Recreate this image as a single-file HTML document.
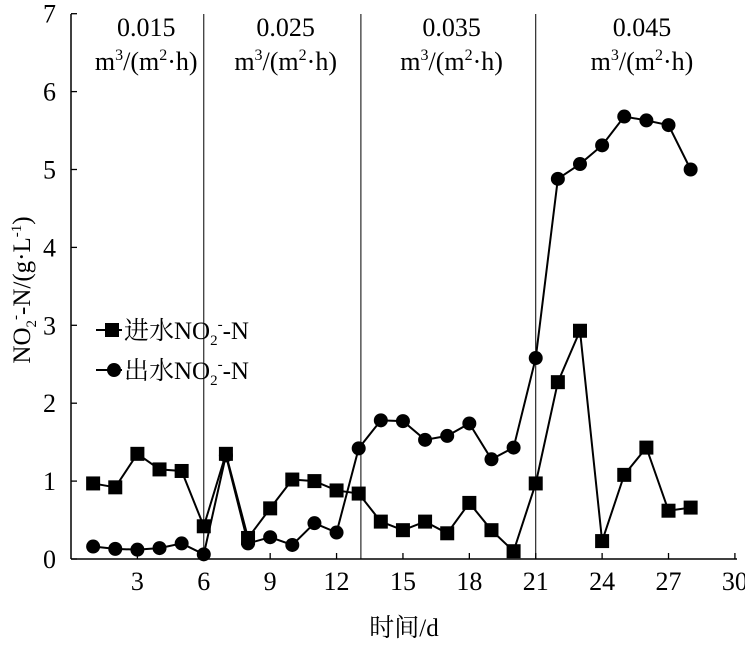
<!DOCTYPE html>
<html><head><meta charset="utf-8"><style>
body{margin:0;background:#fff}
svg text{font-family:"Liberation Serif","Noto Serif CJK SC",serif;fill:#000}
</style></head><body>
<svg width="745" height="645" id="c"></svg>
<script>
const days=[1,2,3,4,5,6,7,8,9,10,11,12,13,14,15,16,17,18,19,20,21,22,23,24,25,26,27,28];
const influent=[0.97,0.92,1.35,1.15,1.13,0.42,1.35,0.27,0.65,1.02,1.0,0.88,0.84,0.48,0.37,0.48,0.33,0.72,0.37,0.1,0.97,2.27,2.93,0.23,1.08,1.43,0.62,0.66];
const effluent=[0.16,0.13,0.12,0.14,0.2,0.06,1.33,0.2,0.28,0.18,0.46,0.34,1.42,1.78,1.77,1.53,1.58,1.74,1.28,1.43,2.58,4.88,5.07,5.31,5.68,5.63,5.57,5.0];
const xTicks=[3,6,9,12,15,18,21,24,27,30];
const yTicks=[0,1,2,3,4,5,6,7];
const dividers=[6,13.1,21];
const rates=["0.015","0.025","0.035","0.045"];
const rateX=[3.4,9.7,17.2,25.8];
const X=v=>71+v*22.13, Y=v=>559-v*77.9;
const s=document.getElementById('c'),NS='http://www.w3.org/2000/svg';
function el(t,a,p){const e=document.createElementNS(NS,t);for(const k in a)e.setAttribute(k,a[k]);(p||s).appendChild(e);return e;}
let e;
e=el('line',{x1:71,y1:14,x2:71,y2:559,stroke:'#000','stroke-width':1.5});


e=el('line',{x1:71,y1:559,x2:737,y2:559,stroke:'#000','stroke-width':1.5});


yTicks.forEach(v=>{
 el('line',{x1:71,y1:Y(v),x2:77,y2:Y(v),stroke:'#000','stroke-width':1.3});
 e=el('text',{x:56,y:Y(v)+9,'text-anchor':'end','font-size':26});e.textContent=v;
 
 
});
xTicks.forEach(v=>{
 el('line',{x1:X(v),y1:559,x2:X(v),y2:553,stroke:'#000','stroke-width':1.3});
 e=el('text',{x:X(v),y:590,'text-anchor':'middle','font-size':26});e.textContent=v;
 
 
});
dividers.forEach(v=>{e=el('line',{x1:X(v),y1:14,x2:X(v),y2:559,stroke:'#000','stroke-width':1});
 
 });
rates.forEach((r,i)=>{
 e=el('text',{x:X(rateX[i]),y:36,'text-anchor':'middle','font-size':26});e.textContent=r;
 
 
 e=el('text',{x:X(rateX[i]),y:70,'text-anchor':'middle','font-size':26});
 e.innerHTML='m<tspan dy="-10" font-size="16">3</tspan><tspan dy="10">/(m</tspan><tspan dy="-10" font-size="16">2</tspan><tspan dy="10">·h)</tspan>';
 
 
});
function series(vals,shape,name){
 e=el('polyline',{points:days.map((d,i)=>X(d)+','+Y(vals[i])).join(' '),fill:'none',stroke:'#000','stroke-width':2});
 
 
 days.forEach((d,i)=>{
  if(shape==='sq')e=el('rect',{x:X(d)-7,y:Y(vals[i])-7,width:14,height:14,fill:'#000'});
  else e=el('circle',{cx:X(d),cy:Y(vals[i]),r:7,fill:'#000'});
  
  
 });
}
series(influent,'sq','influent');
series(effluent,'ci','effluent');
el('line',{x1:96,y1:330,x2:122,y2:330,stroke:'#000','stroke-width':2});
el('rect',{x:105,y:323,width:14,height:14,fill:'#000'});
e=el('text',{x:124,y:339,'font-size':25});e.innerHTML='进水NO<tspan dy="6" font-size="15">2</tspan><tspan dy="-16" font-size="15">-</tspan><tspan dy="10">-N</tspan>';


el('line',{x1:96,y1:370,x2:122,y2:370,stroke:'#000','stroke-width':2});
el('circle',{cx:114,cy:370,r:7,fill:'#000'});
e=el('text',{x:124,y:379,'font-size':25});e.innerHTML='出水NO<tspan dy="6" font-size="15">2</tspan><tspan dy="-16" font-size="15">-</tspan><tspan dy="10">-N</tspan>';


e=el('text',{x:404,y:636,'text-anchor':'middle','font-size':25});e.textContent='时间/d';


e=el('text',{transform:'translate(30,290) rotate(-90)','text-anchor':'middle','font-size':25});
e.innerHTML='NO<tspan dy="6" font-size="15">2</tspan><tspan dy="-16" font-size="15">-</tspan><tspan dy="10">-N/(g·L</tspan><tspan dy="-9" font-size="15">-1</tspan><tspan dy="9">)</tspan>';


</script>
</body></html>
